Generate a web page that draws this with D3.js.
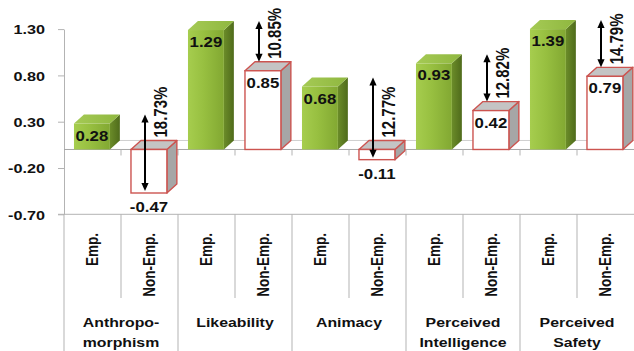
<!DOCTYPE html>
<html>
<head>
<meta charset="utf-8">
<script src="https://cdnjs.cloudflare.com/ajax/libs/d3/7.8.5/d3.min.js"></script>
<style>
  html, body { margin: 0; padding: 0; background: #fff; }
  text { font-family: "Liberation Sans", Arial, sans-serif; font-weight: bold; fill: #111; }
</style>
</head>
<body>
<script>
// ---------------- data ----------------
const categories = [["Anthropo-", "morphism"], ["Likeability"], ["Animacy"], ["Perceived", "Intelligence"], ["Perceived", "Safety"]];
const seriesNames = ["Emp.", "Non-Emp."];
const empValues = [0.28, 1.29, 0.68, 0.93, 1.39];
const nonEmpValues = [-0.47, 0.85, -0.11, 0.42, 0.79];
const diffLabels = ["18.73%", "10.85%", "12.77%", "12.82%", "14.79%"];
const yTicks = [-0.70, -0.20, 0.30, 0.80, 1.30];

// ---------------- setup ----------------
const W = 634, H = 351, SX = 1.2;
const fmt = v => v.toFixed(2);   // hyphen-minus, like the original
const svg = d3.select("body").append("svg").attr("width", W).attr("height", H);
const defs = svg.append("defs");

function grad(id, stops, horizontal = true) {
  const g = defs.append("linearGradient").attr("id", id)
    .attr("x1", 0).attr("y1", 0).attr("x2", horizontal ? 1 : 0).attr("y2", horizontal ? 0 : 1);
  stops.forEach(([o, c]) => g.append("stop").attr("offset", o).attr("stop-color", c));
}
grad("gFront", [[0, "#a6cd4e"], [0.45, "#97bf40"], [1, "#82a832"]]);
grad("gSide", [[0, "#6b8c29"], [1, "#4f6b1b"]]);
grad("gTop", [[0, "#a5ca55"], [1, "#8fb73f"]]);

const y = d3.scaleLinear().domain([-0.7, 1.3]).range([214.3, 29.1]);
const yc = y.copy().clamp(true);

const slotKeys = categories.flatMap((c, i) => seriesNames.map(s => i + "|" + s));
const x = d3.scaleBand().domain(slotKeys).range([64, 634]);
const xg = d3.scaleBand().domain(d3.range(categories.length)).range([64, 634]);
const bw = x.bandwidth();
const fw = bw * 0.63, off = bw * 0.175, dx = bw * 0.175, dy = 9;

const GRID = "#b3b3b3";

function txt(g, px, py, s, size, anchor, rot) {
  return g.append("text")
    .attr("transform", `translate(${px},${py}) scale(${SX},1)` + (rot ? " rotate(-90)" : ""))
    .attr("text-anchor", anchor)
    .style("font-size", size + "px")
    .text(s);
}

// ---------------- axes / grid ----------------
const yAxis = d3.axisLeft(y).tickValues(yTicks).tickFormat(fmt)
  .tickSizeInner(6).tickSizeOuter(0).tickPadding(13);
const ax = svg.append("g").attr("transform", "translate(64,0)").call(yAxis);
ax.select(".domain").attr("stroke", GRID);
ax.selectAll(".tick line").attr("stroke", GRID);
ax.selectAll(".tick text").each(function () {
  const t = d3.select(this);
  const tx = +t.attr("x");
  t.attr("x", 0).attr("dy", null)
    .attr("transform", `translate(${tx},4.8) scale(${SX},1)`)
    .attr("fill", "#111")
    .style("font-size", "13.5px")
    .style("font-family", '"Liberation Sans", Arial, sans-serif')
    .style("font-weight", "bold");
});

// back floor line at zero
svg.append("line").attr("x1", 64 + dx).attr("x2", W).attr("y1", y(0) - dy).attr("y2", y(0) - dy)
  .attr("stroke", "#cfcfcf").attr("stroke-width", 1);
// front zero line
svg.append("line").attr("x1", 64).attr("x2", W).attr("y1", y(0)).attr("y2", y(0))
  .attr("stroke", "#a6a6a6").attr("stroke-width", 1);
// category tick marks on the zero line
svg.selectAll(".ztick").data(slotKeys.slice(1)).enter().append("line")
  .attr("x1", d => x(d)).attr("x2", d => x(d))
  .attr("y1", y(0)).attr("y2", y(0) + 6).attr("stroke", GRID);

// bottom label table
const yb = y(-0.7);
svg.append("line").attr("x1", 58).attr("x2", W).attr("y1", yb).attr("y2", yb).attr("stroke", GRID);
categories.forEach((c, i) => {
  const gx = xg(i);
  svg.append("line").attr("x1", gx).attr("x2", gx).attr("y1", yb).attr("y2", H).attr("stroke", GRID);
  const mx = x(i + "|" + seriesNames[1]);
  svg.append("line").attr("x1", mx).attr("x2", mx).attr("y1", yb).attr("y2", 298).attr("stroke", GRID);
});

const labels = svg.append("g");
slotKeys.forEach(k => {
  const s = k.split("|")[1];
  txt(labels, x(k) + bw / 2 + 5, 233, s, 13.5, "end", true);
});
categories.forEach((lines, i) => {
  const cx = xg(i) + xg.bandwidth() / 2;
  lines.forEach((ln, j) => txt(labels, cx, 327 + j * 19.5, ln, 13.2, "middle", false));
});

// ---------------- bars ----------------
const bars = svg.append("g");
function bar3d(key, v, emp) {
  const x0 = x(key) + off;
  const yt = yc(Math.max(v, 0)), ybt = yc(Math.min(v, 0));
  const stroke = emp ? "none" : "#cc5450";
  const sw = emp ? 0 : 1.4;
  // side
  bars.append("polygon")
    .attr("points", [[x0 + fw, yt], [x0 + fw + dx, yt - dy], [x0 + fw + dx, ybt - dy], [x0 + fw, ybt]].join(" "))
    .attr("fill", emp ? "url(#gSide)" : "#a6a6a6").attr("stroke", stroke).attr("stroke-width", sw)
    .attr("stroke-linejoin", "round");
  // top
  bars.append("polygon")
    .attr("points", [[x0, yt], [x0 + fw, yt], [x0 + fw + dx, yt - dy], [x0 + dx, yt - dy]].join(" "))
    .attr("fill", emp ? "url(#gTop)" : "#c4c4c4").attr("stroke", stroke).attr("stroke-width", sw)
    .attr("stroke-linejoin", "round");
  // front
  bars.append("rect").attr("x", x0).attr("y", yt).attr("width", fw).attr("height", ybt - yt)
    .attr("fill", emp ? "url(#gFront)" : "#ffffff").attr("stroke", stroke).attr("stroke-width", sw);
  // value label
  const lbl = fmt(v);
  if (v >= 0) txt(bars, x0 + fw / 2, yt + 17, lbl, 14, "middle", false);
  else txt(bars, x0 + fw / 2, ybt + 19, lbl, 14, "middle", false);
}
categories.forEach((c, i) => {
  bar3d(i + "|" + seriesNames[0], empValues[i], true);
  bar3d(i + "|" + seriesNames[1], nonEmpValues[i], false);
});

// ---------------- difference arrows ----------------
const ann = svg.append("g");
function arrowHead(px, py, dir) {
  const hw = 3.6, hl = 8;
  ann.append("polygon")
    .attr("points", [[px, py], [px - hw, py - dir * hl], [px + hw, py - dir * hl]].join(" "))
    .attr("fill", "#000");
}
categories.forEach((c, i) => {
  const k = i + "|" + seriesNames[1];
  const ax0 = x(k) + 24;
  const ve = empValues[i], vn = nonEmpValues[i];
  const yTop = yc(ve) - dy;
  const yBot = vn >= 0 ? yc(vn) - dy : yc(vn) - 2;
  ann.append("line").attr("x1", ax0).attr("x2", ax0).attr("y1", yTop + 4).attr("y2", yBot - 4)
    .attr("stroke", "#000").attr("stroke-width", 2);
  arrowHead(ax0, yTop, -1);
  arrowHead(ax0, yBot, 1);
  const tb = vn >= 0 ? yBot - 3 : y(0) - 12;
  txt(ann, ax0 + 22, tb, diffLabels[i], 15, "start", true);
});
</script>
</body>
</html>
